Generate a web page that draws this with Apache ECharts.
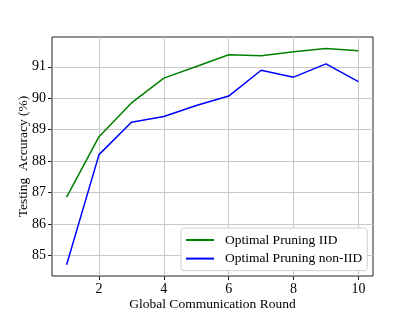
<!DOCTYPE html>
<html><head><meta charset="utf-8">
<script src="https://cdn.jsdelivr.net/npm/echarts@6/dist/echarts.min.js"></script>
<style>html,body{margin:0;padding:0;background:#fff}#c{width:415px;height:311px}</style>
</head><body><div id="c"></div>
<script>
const rounds = [1,2,3,4,5,6,7,8,9,10];
const iid = [86.86,88.78,89.85,90.64,91.01,91.38,91.35,91.48,91.58,91.51];
const nonIid = [84.71,88.21,89.24,89.42,89.77,90.07,90.89,90.67,91.09,90.53];
const xTicks = [2,4,6,8,10];
const yTicks = [85,86,87,88,89,90,91];
const font = 'Liberation Serif';
const chart = echarts.init(document.getElementById('c'));
chart.setOption({
  animation:false,
  grid:{left:52,right:42,top:37,bottom:35,outerBoundsMode:'none',containLabel:false,show:true,borderColor:'#222',borderWidth:1,backgroundColor:'transparent'},
  xAxis:{type:'value',min:0.55,max:10.45,
    name:'Global Communication Round',nameLocation:'middle',nameGap:21,nameMoveOverlap:false,
    nameTextStyle:{fontFamily:font,fontSize:13.5,color:'#000'},
    axisLine:{show:false},
    axisTick:{show:true,customValues:xTicks,length:4,inside:false,lineStyle:{color:'#222'}},
    axisLabel:{customValues:xTicks,fontFamily:font,fontSize:14,color:'#000',margin:6},
    splitLine:{show:true,lineStyle:{color:'#c8c8c8',width:1}}},
  yAxis:{type:'value',min:84.355,max:91.945,
    name:'Testing  Accuracy (%)',nameLocation:'middle',nameGap:22,nameMoveOverlap:false,
    nameTextStyle:{fontFamily:font,fontSize:13.5,color:'#000'},
    axisLine:{show:false},
    axisTick:{show:true,customValues:yTicks,length:4,lineStyle:{color:'#222'}},
    axisLabel:{customValues:yTicks,fontFamily:font,fontSize:14,color:'#000',margin:6},
    splitLine:{show:true,lineStyle:{color:'#c8c8c8',width:1}}},
  legend:{orient:'vertical',left:181,top:228,padding:[5,5,5,5],itemGap:4.6,itemWidth:28,itemHeight:2,
    backgroundColor:'#fff',borderColor:'#d0d0d0',borderWidth:1,borderRadius:3,
    textStyle:{fontFamily:font,fontSize:13.5,lineHeight:14,color:'#000',padding:[0,0,0,6]},
    data:[{name:'Optimal Pruning IID',icon:'rect'},{name:'Optimal Pruning non-IID',icon:'rect'}]},
  series:[
    {name:'Optimal Pruning IID',type:'line',symbol:'none',color:'#008000',lineStyle:{width:1.5,color:'#008000'},
      data:rounds.map((r,i)=>[r,iid[i]])},
    {name:'Optimal Pruning non-IID',type:'line',symbol:'none',color:'#0000ff',lineStyle:{width:1.5,color:'#0000ff'},
      data:rounds.map((r,i)=>[r,nonIid[i]])}
  ]
});
</script></body></html>
